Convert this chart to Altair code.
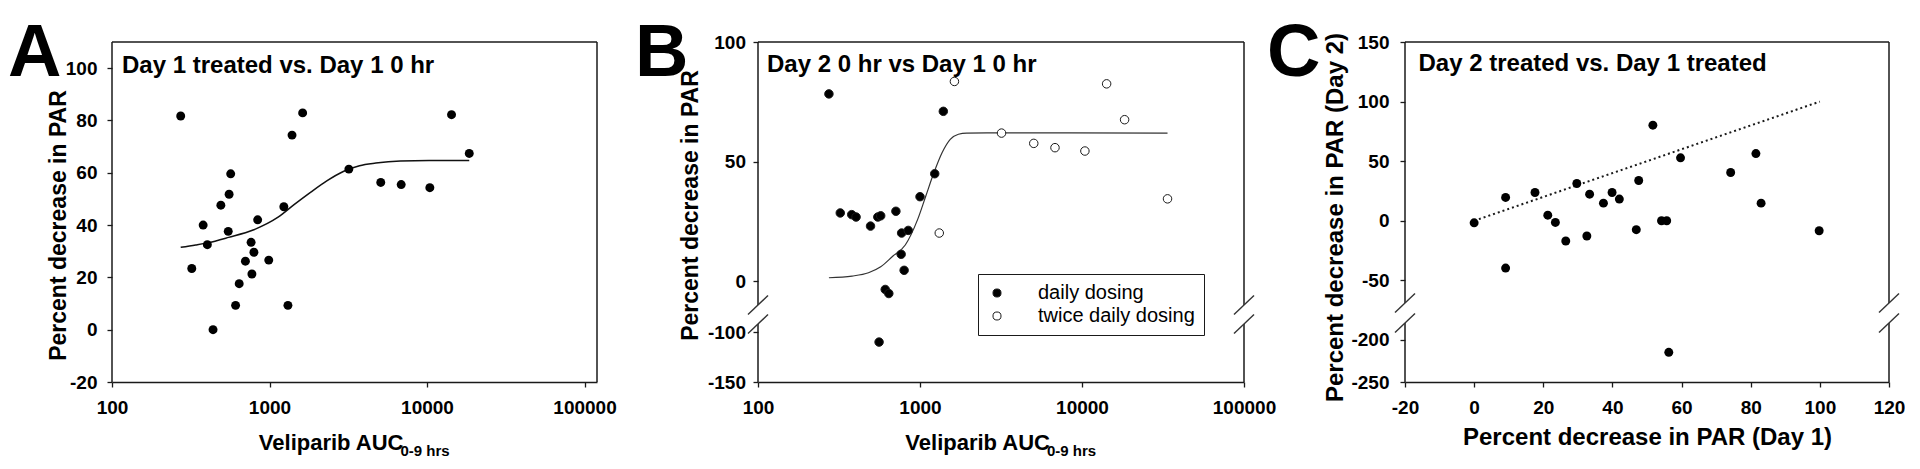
import altair as alt
import pandas as pd

# ---------------- values ----------------
# Panel A: Day 1 treated vs. Day 1 0 hr
a_auc = [273, 321, 379, 403, 438, 491, 547, 554, 567, 609, 642, 703, 764, 773, 796,
         841, 989, 1233, 1309, 1390, 1623, 3190, 5085, 6855, 10420, 14310, 18540]
a_dec = [81.7, 23.4, 40.0, 32.5, 0.0, 47.6, 37.6, 51.8, 59.6, 9.3, 17.6, 26.2, 33.4, 21.3, 29.6,
         42.0, 26.6, 47.0, 9.3, 74.4, 82.9, 61.4, 56.3, 55.5, 54.3, 82.2, 67.4]
a_fit_auc = [273, 340, 403, 550, 787, 1127, 1432, 1820, 2310, 2940, 3727, 4732, 6777, 10300, 18540]
a_fit_dec = [31.5, 32.4, 33.2, 35.3, 38.1, 42.9, 47.8, 52.5, 56.9, 60.5, 62.7, 63.7, 64.5, 64.7, 64.7]
a_x_domain = [100, 120000]
a_y_domain = [-20, 110]
a_x_ticks = [100, 1000, 10000, 100000]
a_y_ticks = [-20, 0, 20, 40, 60, 80, 100]

# Panel B: Day 2 0 hr vs Day 1 0 hr
b_daily_auc = [274, 322, 379, 403, 495, 549, 572, 559, 610, 642, 710, 770, 765, 798, 846, 1000, 1233, 1393]
b_daily_dec = [78.3, 28.5, 27.8, 26.8, 23.0, 26.8, 27.3, -110.1, -3.5, -5.2, 29.2, 20.1, 11.2, 4.5,
               21.2, 35.3, 44.9, 71.0]
b_twice_auc = [1631, 1315, 3186, 5038, 6812, 10420, 14190, 18320, 33720]
b_twice_dec = [83.5, 20.1, 61.9, 57.6, 55.8, 54.4, 82.5, 67.5, 34.4]
b_fit_auc = [274, 381, 481, 572, 681, 811, 966, 1085, 1218, 1368, 1537, 1726, 1940, 2595, 33720]
b_fit_dec = [1.4, 2.1, 3.5, 6.0, 10.5, 15.1, 25.7, 35.5, 45.3, 53.7, 59.3, 61.4, 61.9, 62.0, 61.9]
b_x_domain = [100, 100000]
b_y_domain = [-150, -92, -10, 100]      # broken axis: -92 .. -10 is the gap
b_y_range = [340, 282, 263, 0]
b_x_ticks = [100, 1000, 10000, 100000]
b_y_ticks = [-150, -100, 0, 50, 100]

# Panel C: Day 2 treated vs. Day 1 treated
c_day1 = [0.0, 9.1, 9.1, 17.6, 21.3, 23.5, 26.5, 29.7, 32.6, 33.4, 37.4, 39.9, 42.0, 46.9, 47.6,
          51.7, 54.2, 55.7, 56.3, 59.7, 74.2, 81.5, 83.0, 99.8]
c_day2 = [-1.7, 19.6, -39.7, 23.7, 4.7, -1.4, -17.0, 31.3, -12.8, 22.3, 14.8, 23.7, 18.2, -7.5, 33.8,
          80.2, 0.0, 0.0, -214.8, 52.8, 40.5, 56.4, 14.8, -8.4]
c_line_x = [0, 100]
c_line_y = [0, 100]
c_x_domain = [-20, 120]
c_y_domain = [-250, -180, -69, 150]     # broken axis: -180 .. -69 is the gap
c_y_range = [340, 281, 261, 0]
c_x_ticks = [-20, 0, 20, 40, 60, 80, 100, 120]
c_y_ticks = [-250, -200, -50, 0, 50, 100, 150]

letters = ["A", "B", "C"]
panel_titles = ["Day 1 treated vs. Day 1 0 hr", "Day 2 0 hr vs Day 1 0 hr", "Day 2 treated vs. Day 1 treated"]
y_titles = ["Percent decrease in PAR", "Percent decrease in PAR", "Percent decrease in PAR (Day 2)"]
x_title_main = "Veliparib AUC"
x_title_sub = "0-9 hrs"
c_x_title = "Percent decrease in PAR (Day 1)"
dosing = ["daily dosing", "twice daily dosing"]

# ---------------- styling ----------------
FONT = "Liberation Sans, Arial, sans-serif"
INK = "#1a1a1a"
H = 340
LBL = "'' + datum.value"
LETTER_Y = 34      # baseline of the panel letters, relative to the plot top
TOP_EDGE = -34     # invisible marker that fixes the top of the page


def text_layer(txt, x, y, size, align="left", baseline="alphabetic", weight="bold"):
    return alt.Chart(pd.DataFrame({"t": [txt]})).mark_text(
        align=align, baseline=baseline, fontSize=size, fontWeight=weight, font=FONT, color="black"
    ).encode(x=alt.value(x), y=alt.value(y), text="t:N")


def top_marker():
    return alt.Chart(pd.DataFrame({"t": [0]})).mark_rule(strokeOpacity=0, strokeWidth=1).encode(
        x=alt.value(0), x2=alt.value(10), y=alt.value(TOP_EDGE + 0.5), y2=alt.value(TOP_EDGE + 0.5))


def frame_layer(X, Y, segs):
    df = pd.DataFrame(segs, columns=["x", "y", "x2", "y2"])
    return alt.Chart(df).mark_rule(color=INK, strokeWidth=1.5).encode(
        x=X("x"), y=Y("y"), x2=alt.X2("x2"), y2=alt.Y2("y2"))


def breaks_layer(X, Y, pts):
    df = pd.DataFrame(pts, columns=["x", "y"])
    return alt.Chart(df).mark_rule(color="#333", strokeWidth=1.4, xOffset=-10, x2Offset=10,
                                   yOffset=9.5, y2Offset=-9.5).encode(
        x=X("x"), y=Y("y"), x2=alt.X2("x"), y2=alt.Y2("y"))


def make_enc(xs, ys, xticks, yticks, ytitle, tx, ty, tsize, lpad, xtitle=None, W=485):
    def X(f):
        if xtitle is None:
            ax = alt.Axis(values=xticks, labelExpr=LBL, title=None, labelPadding=11)
        else:
            ax = alt.Axis(values=xticks, labelExpr=LBL, title=xtitle, labelPadding=11,
                          titleX=W / 2, titleY=62, titleAlign="center", titleBaseline="alphabetic",
                          titleFontSize=24)
        return alt.X(f + ":Q", scale=xs, axis=ax)

    def Y(f):
        return alt.Y(f + ":Q", scale=ys, axis=alt.Axis(
            values=yticks, labelExpr=LBL, title=ytitle, titleX=tx, titleY=ty, titleAngle=270,
            titleAlign="center", titleBaseline="alphabetic", titleFontSize=tsize,
            domain=False, labelPadding=lpad))
    return X, Y


# ---------------- Panel A ----------------
WA = 485
xsA = alt.Scale(type="log", domain=a_x_domain, nice=False)
ysA = alt.Scale(domain=a_y_domain, nice=False, zero=False)
XA, YA = make_enc(xsA, ysA, a_x_ticks, a_y_ticks, y_titles[0], -47, 183, 23, 10)
x0, x1 = a_x_domain
y0, y1 = a_y_domain
frameA = frame_layer(XA, YA, [[x0, y0, x0, y1], [x1, y0, x1, y1], [x0, y1, x1, y1]])
dfA = pd.DataFrame({"x": a_auc, "y": a_dec})
dfAfit = pd.DataFrame({"x": a_fit_auc, "y": a_fit_dec})
fitA = alt.Chart(dfAfit).mark_line(color="#111", strokeWidth=1.5, interpolate="monotone").encode(
    x=XA("x"), y=YA("y"))
ptsA = alt.Chart(dfA).mark_circle(size=80, color="black", opacity=1).encode(x=XA("x"), y=YA("y"))
panelA = alt.layer(
    top_marker(), frameA, fitA, ptsA,
    text_layer(panel_titles[0], 10, 31, 24),
    text_layer(x_title_main, WA / 2 + 49, H + 68, 22, align="right"),
    text_layer(x_title_sub, WA / 2 + 46, H + 74, 15),
    text_layer(letters[0], -104, LETTER_Y, 74),
).properties(width=WA, height=H)

# ---------------- Panel B ----------------
WB = 486
xsB = alt.Scale(type="log", domain=b_x_domain, nice=False)
ysB = alt.Scale(domain=b_y_domain, range=b_y_range, nice=False, zero=False)
XB, YB = make_enc(xsB, ysB, b_x_ticks, b_y_ticks, y_titles[1], -61, 163, 23, 7.5)
bx0, bx1 = b_x_domain
by_lo, by_gap_lo, by_gap_hi, by_hi = b_y_domain
frameB = frame_layer(XB, YB, [
    [bx0, by_hi, bx0, by_gap_hi], [bx0, by_gap_lo, bx0, by_lo],
    [bx1, by_hi, bx1, by_gap_hi], [bx1, by_gap_lo, bx1, by_lo],
    [bx0, by_hi, bx1, by_hi]])
brkB = breaks_layer(XB, YB, [[bx0, by_gap_hi], [bx0, by_gap_lo], [bx1, by_gap_hi], [bx1, by_gap_lo]])
dfB = pd.DataFrame({
    "x": b_daily_auc + b_twice_auc,
    "y": b_daily_dec + b_twice_dec,
    "dosing": [dosing[0]] * len(b_daily_auc) + [dosing[1]] * len(b_twice_auc),
})
dfBfit = pd.DataFrame({"x": b_fit_auc, "y": b_fit_dec})
fitB = alt.Chart(dfBfit).mark_line(color="#333", strokeWidth=1.2, interpolate="monotone").encode(
    x=XB("x"), y=YB("y"))
ptsB = alt.Chart(dfB).mark_point(shape="circle", size=72, stroke=INK, strokeWidth=1, opacity=1).encode(
    x=XB("x"), y=YB("y"),
    fill=alt.Fill("dosing:N", scale=alt.Scale(domain=dosing, range=["black", "white"]),
                  legend=alt.Legend(title=None, orient="none", legendX=220, legendY=232,
                                    labelFont=FONT, labelFontSize=20, labelFontWeight="normal",
                                    labelColor="black", symbolType="circle", symbolSize=65,
                                    symbolStrokeColor=INK, symbolStrokeWidth=1,
                                    strokeColor=INK, fillColor="white", padding=9,
                                    rowPadding=3, labelOffset=31)))
panelB = alt.layer(
    top_marker(), frameB, brkB, fitB, ptsB,
    text_layer(panel_titles[1], 9, 30, 24),
    text_layer(x_title_main, WB / 2 + 49, H + 68, 22, align="right"),
    text_layer(x_title_sub, WB / 2 + 46, H + 74, 15),
    text_layer(letters[1], -123, LETTER_Y, 74),
).properties(width=WB, height=H)

# ---------------- Panel C ----------------
WC = 484
xsC = alt.Scale(domain=c_x_domain, nice=False, zero=False)
ysC = alt.Scale(domain=c_y_domain, range=c_y_range, nice=False, zero=False)
XC, YC = make_enc(xsC, ysC, c_x_ticks, c_y_ticks, y_titles[2], -63, 175, 24, 11, xtitle=c_x_title, W=WC)
cx0, cx1 = c_x_domain
cy_lo, cy_gap_lo, cy_gap_hi, cy_hi = c_y_domain
frameC = frame_layer(XC, YC, [
    [cx0, cy_hi, cx0, cy_gap_hi], [cx0, cy_gap_lo, cx0, cy_lo],
    [cx1, cy_hi, cx1, cy_gap_hi], [cx1, cy_gap_lo, cx1, cy_lo],
    [cx0, cy_hi, cx1, cy_hi]])
brkC = breaks_layer(XC, YC, [[cx0, cy_gap_hi], [cx0, cy_gap_lo], [cx1, cy_gap_hi], [cx1, cy_gap_lo]])
dfC = pd.DataFrame({"x": c_day1, "y": c_day2})
dfCline = pd.DataFrame({"x": c_line_x, "y": c_line_y})
lineC = alt.Chart(dfCline).mark_line(color=INK, strokeWidth=2, strokeDash=[2, 3]).encode(
    x=XC("x"), y=YC("y"))
ptsC = alt.Chart(dfC).mark_circle(size=80, color="black", opacity=1).encode(x=XC("x"), y=YC("y"))
panelC = alt.layer(
    top_marker(), frameC, brkC, lineC, ptsC,
    text_layer(panel_titles[2], 13.5, 29, 24),
    text_layer(letters[2], -138, LETTER_Y, 74),
).properties(width=WC, height=H)

chart = alt.hconcat(panelA, panelB, panelC, spacing=161, bounds="flush").resolve_scale(
    fill="independent").resolve_legend(fill="independent").properties(padding=0).configure_axis(
    labelFont=FONT, labelFontSize=19, labelFontWeight="bold", labelColor="black",
    titleFont=FONT, titleFontWeight="bold", titleColor="black",
    tickColor=INK, tickWidth=1.3, tickSize=5, domainColor=INK, domainWidth=1.5,
    grid=False, labelFlush=False, labelOverlap=False,
).configure_view(strokeWidth=0)

chart.save("out.html", embed_options={"renderer": "svg", "actions": False})
